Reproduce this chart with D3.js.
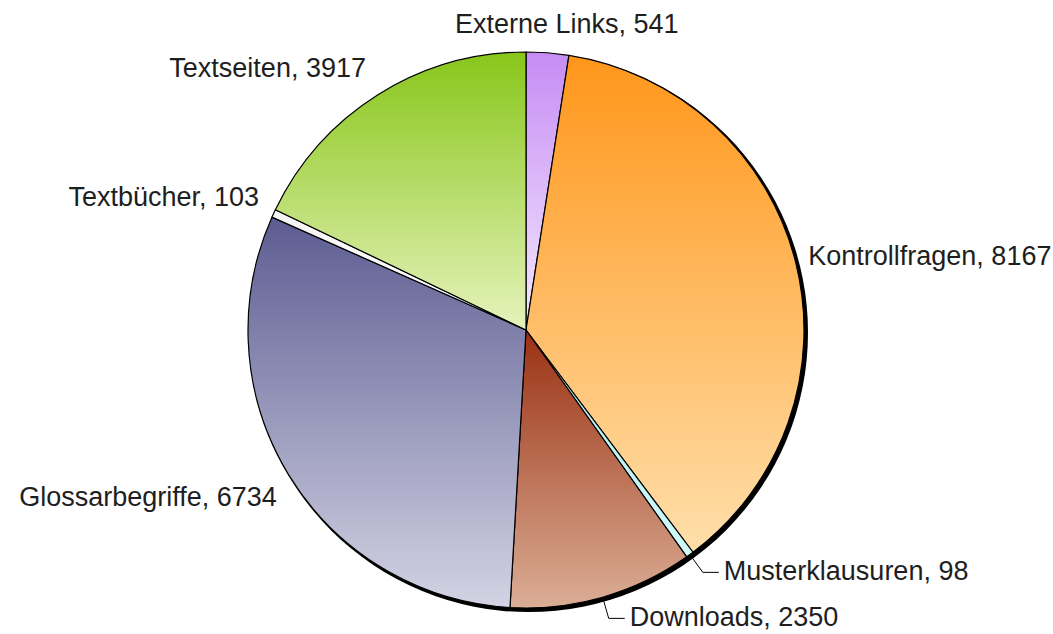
<!DOCTYPE html>
<html>
<head>
<meta charset="utf-8">
<script src="https://cdn.jsdelivr.net/npm/d3@7"></script>
<style>
  html, body { margin: 0; padding: 0; background: #fff; }
  text { font-family: "Liberation Sans", Arial, sans-serif; fill: #1e1e1e; }
</style>
</head>
<body>
<div id="chart"></div>
<script>
// data, clockwise from 12 o'clock
var categories = ["Externe Links", "Kontrollfragen", "Musterklausuren", "Downloads",
                  "Glossarbegriffe", "Textbücher", "Textseiten"];
var values = [541, 8167, 98, 2350, 6734, 103, 3917];

// gradient colours per slice (top -> bottom)
var topColors = ["#c68cf4", "#ff961a", "#a9ecef", "#9a3012", "#5c5c92", "#f4f4f4", "#88c61a"];
var bottomColors = ["#f5eafe", "#ffdfab", "#d2fbfb", "#dbae96", "#d3d3e4", "#ffffff", "#e6f3bc"];

var w = 1053, h = 634;
var cx = 526, cy = 330, r = 278;

var svg = d3.select("#chart").append("svg")
  .attr("width", w)
  .attr("height", h);

var defs = svg.append("defs");
categories.forEach(function(c, i) {
  var g = defs.append("linearGradient")
    .attr("id", "grad" + i)
    .attr("x1", 0).attr("y1", 0).attr("x2", 0).attr("y2", 1);
  g.append("stop").attr("offset", "0%").attr("stop-color", topColors[i]);
  g.append("stop").attr("offset", "100%").attr("stop-color", bottomColors[i]);
});

var pie = d3.pie().sort(null).value(function(d) { return d; });
var arcs = pie(values);

var arc = d3.arc().innerRadius(0).outerRadius(r);

var g = svg.append("g").attr("transform", "translate(" + cx + "," + cy + ")");

// drop shadow on the right/bottom
g.append("circle")
  .attr("cx", 2.5).attr("cy", 2.5)
  .attr("r", r + 1.5)
  .attr("fill", "#000");

g.selectAll("path.slice")
  .data(arcs)
  .enter()
  .append("path")
  .attr("class", "slice")
  .attr("d", arc)
  .attr("fill", function(d, i) { return "url(#grad" + i + ")"; })
  .attr("stroke", "#000")
  .attr("stroke-width", 1.2)
  .attr("stroke-linejoin", "round");

// labels
function pt(a, rad) {
  return [rad * Math.sin(a), -rad * Math.cos(a)];
}

// small nudges so the labels sit where the original put them
var nudge = [[18, -5], [-2, 6], [0, 0], [0, 0], [1, 23], [-1, -1], [-4, -5]];
var leader = [false, false, true, true, false, false, false];

arcs.forEach(function(d, i) {
  var a = (d.startAngle + d.endAngle) / 2;
  var txt = categories[i] + ", " + values[i];
  if (leader[i]) {
    var p0 = pt(a, r + 4);
    var p1 = pt(a, r + 22);
    var p2 = [p1[0] + 16, p1[1]];
    g.append("polyline")
      .attr("points", [p0, p1, p2].map(function(p) { return p.join(","); }).join(" "))
      .attr("fill", "none")
      .attr("stroke", "#000")
      .attr("stroke-width", 1);
    g.append("text")
      .attr("x", p2[0] + 5)
      .attr("y", p2[1] + 8)
      .attr("font-size", 27)
      .attr("text-anchor", "start")
      .text(txt);
  } else {
    var p = pt(a, r + 15);
    var s = Math.sin(a);
    var anchor = s > 0.3 ? "start" : (s < -0.3 ? "end" : "middle");
    g.append("text")
      .attr("x", p[0] + nudge[i][0])
      .attr("y", p[1] + nudge[i][1])
      .attr("font-size", 27)
      .attr("text-anchor", anchor)
      .text(txt);
  }
});
</script>
</body>
</html>
